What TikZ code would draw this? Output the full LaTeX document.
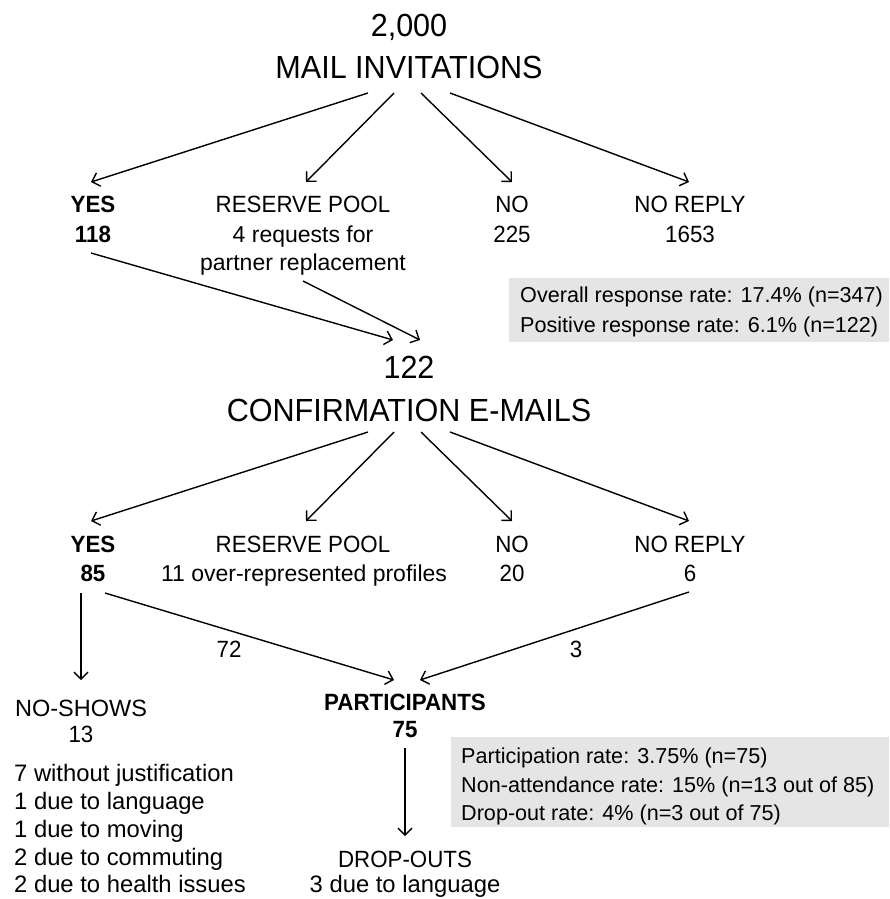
\documentclass[tikz,border=0pt]{standalone}
\usepackage{fontspec}
\setmainfont{Liberation Sans}
\usetikzlibrary{arrows.meta}
\definecolor{boxgray}{RGB}{229,229,229}
\newcommand{\narrow}[2][0.95]{\scalebox{#1}[1]{#2}}
\begin{document}
\begin{tikzpicture}[x=1pt,y=-1pt,
  head/.style={anchor=base,inner sep=0pt,font=\fontsize{32}{38}\selectfont},
  lab/.style={anchor=base,inner sep=0pt,font=\fontsize{23.5}{28}\selectfont},
  blab/.style={lab,font=\fontsize{23.5}{28}\selectfont\bfseries},
  low/.style={anchor=base,inner sep=0pt,font=\fontsize{23}{28}\selectfont},
  listtxt/.style={anchor=base west,inner sep=0pt,font=\fontsize{23.8}{28}\selectfont},
  boxtxt/.style={anchor=base west,inner sep=0pt,font=\fontsize{21.6}{26}\selectfont},
  graybox/.style={fill=boxgray,draw=none},
  arr/.style={-{Straight Barb[length=7pt,width=14pt]},line width=1.4pt}
]
\useasboundingbox (0,0) rectangle (889,899);

% gray boxes
\fill[graybox] (509,278) rectangle (889,342);
\fill[graybox] (451,737) rectangle (889,827);

% ---- level 1
\node[head] (n2000) at (409,37) {\narrow[0.955]{2,000}};
\node[head] (mail) at (409,78) {\narrow[0.955]{MAIL INVITATIONS}};

\node[blab] (yes1) at (93,212) {\narrow{YES}};
\node[blab] (yes1n) at (93,242) {\narrow{118}};
\node[lab] (res1) at (303,212) {\narrow{RESERVE POOL}};
\node[low] (res1a) at (303,242) {4 requests for};
\node[low] (res1b) at (303,270) {partner replacement};
\node[lab] (no1) at (512,212) {\narrow{NO}};
\node[lab] (no1n) at (512,242) {\narrow{225}};
\node[lab] (nr1) at (690,212) {\narrow{NO REPLY}};
\node[lab] (nr1n) at (690,242) {\narrow{1653}};

\node[boxtxt] (box1a) at (520,302) {Overall response rate: 17.4\% (n=347)};
\node[boxtxt] (box1b) at (520,332) {Positive response rate: 6.1\% (n=122)};

\coordinate (m1) at (368,93);
\coordinate (m2) at (394,93);
\coordinate (m3) at (421,93);
\coordinate (m4) at (450,93);
\coordinate (t1) at (91,182);
\coordinate (t2) at (306,182);
\coordinate (t3) at (512,182);
\coordinate (t4) at (689,182);
\draw[arr] (m1) -- (t1);
\draw[arr] (m2) -- (t2);
\draw[arr] (m3) -- (t3);
\draw[arr] (m4) -- (t4);

\coordinate (y1s) at (91,253);
\coordinate (r1s) at (303,281);
\coordinate (c1) at (393,340);
\coordinate (c2) at (420,340);
\draw[arr] (y1s) -- (c1);
\draw[arr] (r1s) -- (c2);

% ---- level 2
\node[head] (n122) at (409,378) {\narrow[0.955]{122}};
\node[head] (conf) at (409,421) {\narrow[0.955]{CONFIRMATION E-MAILS}};

\node[blab] (yes2) at (93,552) {\narrow{YES}};
\node[blab] (yes2n) at (93,581) {\narrow{85}};
\node[lab] (res2) at (303,552) {\narrow{RESERVE POOL}};
\node[low] (res2a) at (304,581) {11 over-represented profiles};
\node[lab] (no2) at (512,552) {\narrow{NO}};
\node[lab] (no2n) at (512,581) {\narrow{20}};
\node[lab] (nr2) at (690,552) {\narrow{NO REPLY}};
\node[lab] (nr2n) at (690,581) {\narrow{6}};

\coordinate (k1) at (368,432);
\coordinate (k2) at (394,432);
\coordinate (k3) at (421,432);
\coordinate (k4) at (450,432);
\coordinate (u1) at (91,521);
\coordinate (u2) at (306,521);
\coordinate (u3) at (512,521);
\coordinate (u4) at (689,521);
\draw[arr] (k1) -- (u1);
\draw[arr] (k2) -- (u2);
\draw[arr] (k3) -- (u3);
\draw[arr] (k4) -- (u4);

% ---- level 3
\coordinate (ysd) at (81,593);
\coordinate (nsh) at (81,680);
\coordinate (ysp) at (105,593);
\coordinate (nrp) at (689,592);
\coordinate (p1) at (394,680);
\coordinate (p2) at (420,680);
\draw[arr] (ysd) -- (nsh);
\draw[arr] (ysp) -- (p1);
\draw[arr] (nrp) -- (p2);
\node[lab] (lab72) at (229,657) {\narrow{72}};
\node[lab] (lab3) at (576,657) {\narrow{3}};

\node[lab] (nosh) at (81,716) {NO-SHOWS};
\node[lab] (nosh13) at (81,742) {\narrow{13}};
\node[listtxt] (ns1) at (14,781) {7 without justification};
\node[listtxt] (ns2) at (14,809) {1 due to language};
\node[listtxt] (ns3) at (14,837) {1 due to moving};
\node[listtxt] (ns4) at (14,865) {2 due to commuting};
\node[listtxt] (ns5) at (14,892) {2 due to health issues};

\node[blab] (part) at (405,710) {\narrow{PARTICIPANTS}};
\node[blab] (part75) at (405,737) {\narrow{75}};
\coordinate (pd1) at (405,748);
\coordinate (pd2) at (405,836);
\draw[arr] (pd1) -- (pd2);
\node[lab] (drop) at (405,867) {\narrow{DROP-OUTS}};
\node[listtxt,anchor=base] (drop3) at (405,892) {3 due to language};

\node[boxtxt] (box2a) at (461,763) {Participation rate: 3.75\% (n=75)};
\node[boxtxt] (box2b) at (461,792) {Non-attendance rate: 15\% (n=13 out of 85)};
\node[boxtxt] (box2c) at (461,820) {Drop-out rate: 4\% (n=3 out of 75)};
\end{tikzpicture}
\end{document}
